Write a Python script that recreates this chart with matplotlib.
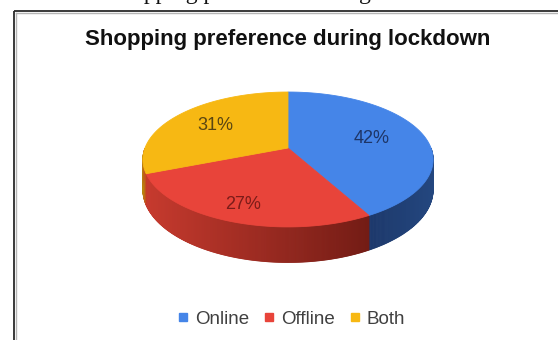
import numpy as np
import matplotlib.pyplot as plt
from matplotlib.patches import Polygon
from matplotlib.lines import Line2D

plt.rcParams['font.family'] = ['Liberation Sans', 'DejaVu Sans']

# data
labels = ['Online', 'Offline', 'Both']
shares = [42, 27, 31]
title = 'Shopping preference during lockdown'
caption = 'Shopping preference during lockdown'

# colours: top face, side gradient (left -> right), label text
top_cols = ['#4585e8', '#e8443a', '#f7b813']
side_left = ['#1c386b', '#c63a2e', '#b8850c']
side_right = ['#24477f', '#731c15', '#c8352a']
text_cols = ['#1e3566', '#7b1c19', '#5a4612']
label_r = [0.62, 0.80, 0.65]   # where each % label sits along the radius

# pie geometry in pixel units
W, H = 558, 340
cx, cy = 288, 148
R, B = 143, 65.5
p = 0.17      # perspective strength
D = 29.5      # thickness


def proj(theta, r=1.0):
    # circle point -> screen, with a little perspective (front is bigger)
    u = r * np.cos(theta)
    v = r * np.sin(theta)
    s = 1.0 / (1 + p * v)
    return cx + R * u * s, cy - B * v * s, s


def mix(c1, c2, t):
    a = np.array(plt.matplotlib.colors.to_rgb(c1))
    b = np.array(plt.matplotlib.colors.to_rgb(c2))
    return tuple(a + (b - a) * t)


fig = plt.figure(figsize=(W / 100, H / 100), dpi=100)
ax = fig.add_axes([0, 0, 1, 1])
ax.set_xlim(0, W)
ax.set_ylim(H, 0)
ax.axis('off')

frac = np.array(shares, dtype=float) / sum(shares)
edges = np.deg2rad(90 - 360 * np.concatenate([[0], np.cumsum(frac)]))

# sides first (only the front half is visible)
for i in range(len(shares)):
    th = np.linspace(edges[i], edges[i + 1], 300)
    vis = np.sin(th) < 0
    if vis.sum() < 2:
        continue
    th = th[vis]
    x, y, s = proj(th)
    yb = y + D * s
    xmin, xmax = x.min(), x.max()
    for k in range(len(th) - 1):
        t = ((x[k] + x[k + 1]) / 2 - xmin) / max(xmax - xmin, 1)
        col = mix(side_left[i], side_right[i], t)
        quad = [(x[k], y[k]), (x[k + 1], y[k + 1]), (x[k + 1], yb[k + 1]), (x[k], yb[k])]
        ax.add_patch(Polygon(quad, closed=True, fc=col, ec=col, lw=0.6))

# top faces
for i in range(len(shares)):
    th = np.linspace(edges[i], edges[i + 1], 200)
    x, y, _ = proj(th)
    pts = np.column_stack([np.r_[cx, x], np.r_[cy, y]])
    ax.add_patch(Polygon(pts, closed=True, fc=top_cols[i], ec=top_cols[i], lw=0.6))

# % labels
for i in range(len(shares)):
    mid = (edges[i] + edges[i + 1]) / 2
    lx, ly, _ = proj(mid, label_r[i])
    ax.text(lx, ly, f'{shares[i]}%', ha='center', va='center', fontsize=13,
            color=text_cols[i])

ax.text(288, 40, title, ha='center', va='center', fontsize=16,
        fontweight='bold', color='#111111')

# caption line of the page above, mostly cut off
ax.text(288, -1.5, caption, ha='center', va='baseline', fontsize=17,
        family=['Liberation Serif', 'DejaVu Serif'], color='#111111')

# chart border
ax.plot([14, 14], [10.5, H], color='#2a2a2a', lw=1.3, solid_capstyle='butt')
ax.plot([14, W], [10.5, 10.5], color='#2a2a2a', lw=1.3, solid_capstyle='butt')
ax.plot([16.3, 16.3], [12.5, H], color='#b5b5b5', lw=1.0)
ax.plot([16.3, W], [12.5, 12.5], color='#b5b5b5', lw=1.0)

handles = [Line2D([], [], marker='s', ls='none', color=c, markersize=6)
           for c in top_cols]
leg = ax.legend(handles, labels, loc='center', bbox_to_anchor=(291.5 / W, 1 - 319 / H),
                ncol=3, frameon=False, fontsize=13.5, handlelength=0.6,
                handletextpad=0.35, columnspacing=0.75, labelcolor='#404040')

plt.savefig('out.png', dpi=100)
